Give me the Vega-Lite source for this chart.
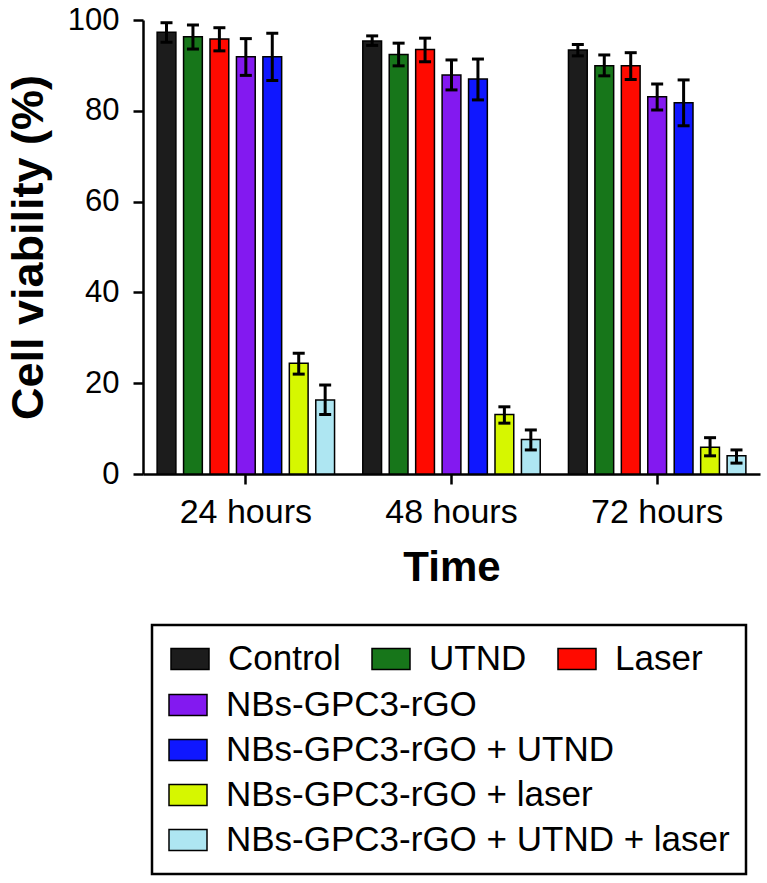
{
  "$schema": "https://vega.github.io/schema/vega-lite/v6.json",
  "width": 617,
  "height": 454,
  "autosize": {"type": "none"},
  "padding": {"left": 143, "top": 20, "right": 7, "bottom": 409},
  "background": "white",
  "data": {
    "values": [
      {"time": "24 hours", "group": "Control", "v": 97.3, "lo": 95.1, "hi": 99.4},
      {"time": "24 hours", "group": "UTND", "v": 96.3, "lo": 93.6, "hi": 98.9},
      {"time": "24 hours", "group": "Laser", "v": 95.8, "lo": 93.2, "hi": 98.3},
      {"time": "24 hours", "group": "NBs-GPC3-rGO", "v": 91.9, "lo": 87.8, "hi": 95.9},
      {"time": "24 hours", "group": "NBs-GPC3-rGO + UTND", "v": 91.9, "lo": 86.7, "hi": 97.1},
      {"time": "24 hours", "group": "NBs-GPC3-rGO + laser", "v": 24.4, "lo": 22.0, "hi": 26.6},
      {"time": "24 hours", "group": "NBs-GPC3-rGO + UTND + laser", "v": 16.3, "lo": 13.1, "hi": 19.6},
      {"time": "48 hours", "group": "Control", "v": 95.4, "lo": 94.4, "hi": 96.5},
      {"time": "48 hours", "group": "UTND", "v": 92.4, "lo": 89.9, "hi": 94.9},
      {"time": "48 hours", "group": "Laser", "v": 93.5, "lo": 90.8, "hi": 96.0},
      {"time": "48 hours", "group": "NBs-GPC3-rGO", "v": 87.9, "lo": 84.6, "hi": 91.2},
      {"time": "48 hours", "group": "NBs-GPC3-rGO + UTND", "v": 87.0, "lo": 82.4, "hi": 91.4},
      {"time": "48 hours", "group": "NBs-GPC3-rGO + laser", "v": 13.1, "lo": 11.2, "hi": 14.8},
      {"time": "48 hours", "group": "NBs-GPC3-rGO + UTND + laser", "v": 7.6, "lo": 5.3, "hi": 9.7},
      {"time": "72 hours", "group": "Control", "v": 93.4, "lo": 92.1, "hi": 94.6},
      {"time": "72 hours", "group": "UTND", "v": 89.9, "lo": 87.7, "hi": 92.3},
      {"time": "72 hours", "group": "Laser", "v": 89.9, "lo": 86.9, "hi": 92.8},
      {"time": "72 hours", "group": "NBs-GPC3-rGO", "v": 83.1, "lo": 80.2, "hi": 85.9},
      {"time": "72 hours", "group": "NBs-GPC3-rGO + UTND", "v": 81.8, "lo": 76.7, "hi": 86.8},
      {"time": "72 hours", "group": "NBs-GPC3-rGO + laser", "v": 5.9, "lo": 4.0, "hi": 8.0},
      {"time": "72 hours", "group": "NBs-GPC3-rGO + UTND + laser", "v": 4.0, "lo": 2.4, "hi": 5.3}
    ]
  },
  "encoding": {
    "x": {
      "field": "time", "type": "nominal", "title": "Time",
      "scale": {"domain": ["24 hours", "48 hours", "72 hours"], "paddingInner": 0.1, "paddingOuter": 0.05},
      "axis": {"labelAngle": 0, "bandPosition": 0.5}
    },
    "xOffset": {
      "field": "group", "type": "nominal",
      "scale": {
        "domain": ["Control", "UTND", "Laser", "NBs-GPC3-rGO", "NBs-GPC3-rGO + UTND", "NBs-GPC3-rGO + laser", "NBs-GPC3-rGO + UTND + laser"],
        "paddingInner": 0.29, "paddingOuter": 0.145
      }
    }
  },
  "layer": [
    {
      "transform": [{"filter": {"field": "group", "oneOf": ["Control", "UTND", "Laser"]}}],
      "mark": {"type": "bar", "stroke": "black", "strokeWidth": 1.5},
      "encoding": {
        "y": {"field": "v", "type": "quantitative", "title": "Cell viability (%)", "scale": {"domain": [0, 100], "nice": false}, "axis": {"values": [0, 20, 40, 60, 80, 100]}},
        "color": {
          "field": "group", "type": "nominal",
          "scale": {"domain": ["Control", "UTND", "Laser"], "range": ["#1c1c1c", "#17761a", "#ff0a00"]},
          "legend": {
            "title": null, "orient": "none", "legendX": 27, "legendY": 619, "direction": "horizontal",
            "columnPadding": 28, "labelFontSize": 35, "labelOffset": 18, "labelLimit": 600, "labelColor": "black",
            "symbolType": "M-1,-0.55H1V0.55H-1Z", "symbolSize": 1444, "symbolStrokeColor": "black", "symbolStrokeWidth": 1.5, "symbolOpacity": 1,
            "padding": 0
          }
        }
      }
    },
    {
      "transform": [{"filter": {"field": "group", "oneOf": ["NBs-GPC3-rGO", "NBs-GPC3-rGO + UTND", "NBs-GPC3-rGO + laser", "NBs-GPC3-rGO + UTND + laser"]}}],
      "mark": {"type": "bar", "stroke": "black", "strokeWidth": 1.5},
      "encoding": {
        "y": {"field": "v", "type": "quantitative", "title": "Cell viability (%)", "scale": {"domain": [0, 100], "nice": false}, "axis": {"values": [0, 20, 40, 60, 80, 100]}},
        "color": {
          "field": "group", "type": "nominal",
          "scale": {"domain": ["NBs-GPC3-rGO", "NBs-GPC3-rGO + UTND", "NBs-GPC3-rGO + laser", "NBs-GPC3-rGO + UTND + laser"], "range": ["#8319f0", "#0f17ff", "#d6f700", "#aee6f2"]},
          "legend": {
            "title": "                                                          ",
            "titleFontSize": 35, "titlePadding": 9, "titleLimit": 2000, "orient": "none", "legendX": 9, "legendY": 605, "direction": "vertical",
            "rowPadding": 7, "labelFontSize": 35, "labelOffset": 18, "labelLimit": 600, "labelColor": "black",
            "symbolType": "M-1,-0.55H1V0.55H-1Z", "symbolSize": 1444, "symbolStrokeColor": "black", "symbolStrokeWidth": 1.5, "symbolOpacity": 1,
            "strokeColor": "black", "padding": 16
          }
        }
      }
    },
    {
      "mark": {"type": "rule", "color": "black", "strokeWidth": 3},
      "encoding": {
        "y": {"field": "lo", "type": "quantitative", "title": "Cell viability (%)", "scale": {"domain": [0, 100], "nice": false}, "axis": {"values": [0, 20, 40, 60, 80, 100]}},
        "y2": {"field": "hi"}
      }
    },
    {
      "mark": {"type": "tick", "color": "black", "thickness": 3, "size": 12, "opacity": 1},
      "encoding": {
        "y": {"field": "lo", "type": "quantitative", "title": "Cell viability (%)", "scale": {"domain": [0, 100], "nice": false}, "axis": {"values": [0, 20, 40, 60, 80, 100]}}
      }
    },
    {
      "mark": {"type": "tick", "color": "black", "thickness": 3, "size": 12, "opacity": 1},
      "encoding": {
        "y": {"field": "hi", "type": "quantitative", "title": "Cell viability (%)", "scale": {"domain": [0, 100], "nice": false}, "axis": {"values": [0, 20, 40, 60, 80, 100]}}
      }
    }
  ],
  "resolve": {"scale": {"color": "independent"}},
  "config": {
    "font": "Liberation Sans",
    "view": {"stroke": null},
    "legend": {"strokeWidth": 2.5},
    "axis": {
      "grid": false, "domainColor": "black", "domainWidth": 2.5, "tickColor": "black", "tickWidth": 2.5, "tickSize": 10,
      "labelColor": "black", "titleColor": "black", "titleFontWeight": "bold", "titleFontSize": 42
    },
    "axisX": {"labelFontSize": 34, "labelPadding": 11, "titlePadding": 18},
    "axisY": {"labelFontSize": 31, "labelPadding": 14, "titlePadding": 16, "titleFontSize": 45}
  }
}
